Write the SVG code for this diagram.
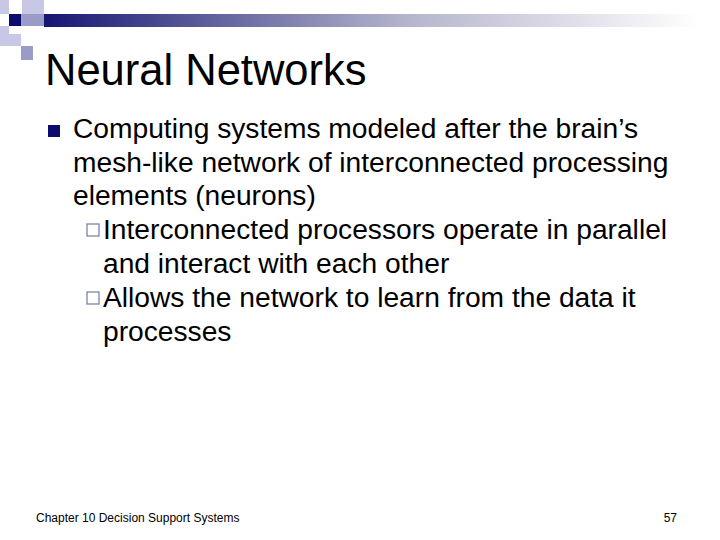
<svg xmlns="http://www.w3.org/2000/svg" width="720" height="540" viewBox="0 0 720 540">
<style>
text{font-family:"Liberation Sans",Arial,sans-serif;fill:#000}
.b{font-size:28.2px}
.lt{fill:#c8c8e6}
.md{fill:#9b9bc8}
</style>
<defs><linearGradient id="g" x1="0" x2="1"><stop offset="0" stop-color="#161673"/><stop offset="0.55" stop-color="#b4b4cc"/><stop offset="1" stop-color="#ffffff"/></linearGradient></defs>
<rect width="720" height="540" fill="#fff"/>
<g id="deco">
<rect x="44" y="14" width="656" height="13" fill="url(#g)"/>
<rect class="lt" x="0" y="0" width="9" height="14"/>
<rect class="lt" x="22" y="0" width="22" height="14"/>
<rect fill="#0c0c6e" x="9" y="14" width="12" height="12"/>
<rect class="md" x="21" y="14" width="23" height="12"/>
<rect class="lt" x="0" y="26" width="9" height="8"/>
<rect class="lt" x="0" y="34" width="21" height="12"/>
<rect class="md" x="21" y="46" width="12" height="14"/>
</g>
<text x="45" y="85" font-size="43.5">Neural Networks</text>
<rect x="48" y="125" width="12" height="12" fill="#0c0c6e"/>
<text class="b" x="73" y="138">Computing systems modeled after the brain’s</text>
<text class="b" x="73" y="172">mesh-like network of interconnected processing</text>
<text class="b" x="73" y="205">elements (neurons)</text>
<rect x="87" y="224" width="12" height="12" fill="none" stroke="#8080b0" stroke-width="1.3"/>
<text class="b" x="103" y="239">Interconnected processors operate in parallel</text>
<text class="b" x="103" y="273">and interact with each other</text>
<rect x="87" y="292" width="12" height="12" fill="none" stroke="#8080b0" stroke-width="1.3"/>
<text class="b" x="103" y="307">Allows the network to learn from the data it</text>
<text class="b" x="103" y="341">processes</text>
<text x="36" y="522" font-size="12">Chapter 10 Decision Support Systems</text>
<text x="677" y="522" font-size="12" text-anchor="end">57</text>
</svg>
